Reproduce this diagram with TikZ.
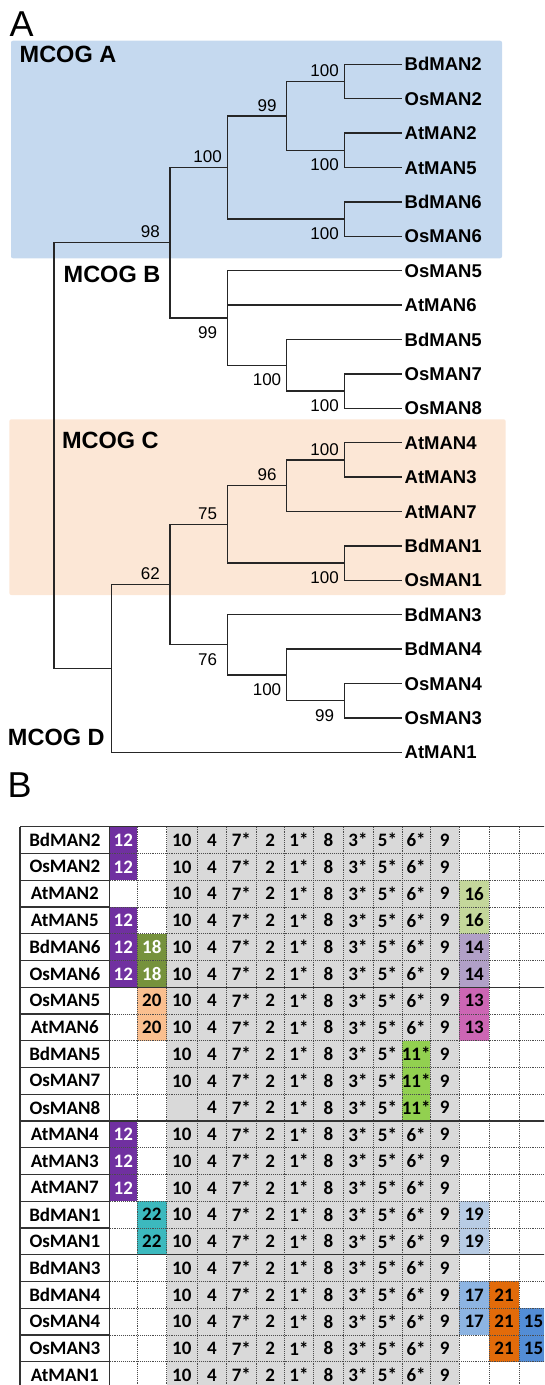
\documentclass[tikz,border=0pt]{standalone}
\usepackage{fontspec}
\setmainfont{Liberation Sans}
\newfontfamily\tabfont{Carlito}
\definecolor{bgA}{RGB}{197,217,239}
\definecolor{bgC}{RGB}{252,231,214}
\definecolor{cgray}{RGB}{217,217,217}
\definecolor{cpurple}{RGB}{112,48,160}
\definecolor{colive}{RGB}{118,146,60}
\definecolor{cpeach}{RGB}{250,191,143}
\definecolor{cteal}{RGB}{60,185,190}
\definecolor{clgreen}{RGB}{196,215,155}
\definecolor{clav}{RGB}{177,160,199}
\definecolor{cmag}{RGB}{204,102,180}
\definecolor{cgreen}{RGB}{146,208,80}
\definecolor{cblueA}{RGB}{184,204,228}
\definecolor{cblueB}{RGB}{141,180,226}
\definecolor{corange}{RGB}{226,107,10}
\definecolor{cblueC}{RGB}{83,141,213}
\def\colX{{20,109.7,137,166.7,197,226.7,256,284.3,313.7,343,373,402,430.3,459.3,489,519,548}}
\newcommand\cellbox[2]{%
  \pgfmathsetmacro\xa{\colX[#2]}%
  \pgfmathsetmacro\xb{\colX[#2+1]}%
  \pgfmathsetmacro\ya{826.7+26.75*#1}%
  \pgfmathsetmacro\yb{\ya+26.75}%
  \pgfmathsetmacro\xm{(\xa+\xb)/2}%
  \pgfmathsetmacro\ym{(\ya+\yb)/2}}
\newcommand\cfill[3]{\cellbox{#1}{#2}\fill[#3] (\xa,\ya) rectangle (\xb,\yb);}
\newcommand\ctext[4]{\cellbox{#1}{#2}\node[tcell,text=#3] (k-#1-#2) at (\xm,\ym) {#4};}
\begin{document}
\begin{tikzpicture}[x=1pt,y=-1pt,
  branch/.style={line width=1.3pt,draw=black!85},
  leaf/.style={anchor=base west,inner sep=0pt,font=\fontsize{18.5}{20}\selectfont\bfseries},
  bs/.style={anchor=base,inner sep=0pt,font=\fontsize{17}{18}\selectfont},
  bsup/.style={bs,xshift=-19.7pt,yshift=4.8pt},
  bsdn/.style={bs,xshift=-19.7pt,yshift=-20.5pt},
  mcog/.style={anchor=base west,inner sep=0pt,font=\fontsize{23.5}{26}\selectfont\bfseries},
  panel/.style={anchor=base west,inner sep=0pt,font=\fontsize{36}{40}\selectfont},
  tcell/.style={inner sep=0pt,font=\tabfont\fontsize{19}{20}\selectfont\bfseries},
  dotl/.style={line width=0.9pt,densely dotted,draw=black!70},
  soll/.style={line width=1.3pt,draw=black!80}]
\useasboundingbox (0,0) rectangle (544,1385);
% ---------- Panel A ----------
\node[panel] (pA) at (9.5,36) {A};
\fill[bgA,rounded corners=2pt] (11,40.7) rectangle (502,258.3);
\fill[bgC,rounded corners=2pt] (9.3,419.3) rectangle (505.7,595);
\node[mcog] (mA) at (19.5,62) {MCOG A};
\node[mcog] (mB) at (63.5,282.3) {MCOG B};
\node[mcog] (mC) at (61.8,448.3) {MCOG C};
\node[mcog] (mD) at (7.8,745.7) {MCOG D};
% leaves
\foreach \n [count=\i from 0] in {BdMAN2,OsMAN2,AtMAN2,AtMAN5,BdMAN6,OsMAN6,OsMAN5,AtMAN6,BdMAN5,OsMAN7,OsMAN8,AtMAN4,AtMAN3,AtMAN7,BdMAN1,OsMAN1,BdMAN3,BdMAN4,OsMAN4,OsMAN3,AtMAN1}{
  \pgfmathsetmacro\yy{64.3+34.4*\i}
  \coordinate (L\i) at (401.7,\yy);
  \node[leaf] (T\i) at (404.5,\yy+6.6) {\n};
}
% internal nodes
\coordinate (n1) at (344.3,81.5);
\coordinate (n2) at (344.3,150.3);
\coordinate (n3) at (286.7,115.9);
\coordinate (n4) at (344.3,219.1);
\coordinate (n5) at (227.3,167.5);
\coordinate (nB) at (227.3,318.0);
\coordinate (n7) at (286.7,365.3);
\coordinate (n8) at (344.3,391.1);
\coordinate (n98) at (170,242.75);
\coordinate (n9) at (344.3,459.9);
\coordinate (n10) at (286.7,485.7);
\coordinate (n11) at (344.3,563.1);
\coordinate (n12) at (227.3,524.4);
\coordinate (n13) at (344.3,700.7);
\coordinate (n14) at (286.7,674.9);
\coordinate (n15) at (227.3,644.8);
\coordinate (n16) at (170,584.6);
\coordinate (n17) at (111.7,668.45);
\coordinate (root) at (54,455.6);
% branches
\foreach \p/\c in {root/n98,root/n17,n98/n5,n98/nB,n5/n3,n5/n4,n3/n1,n3/n2,
  n1/L0,n1/L1,n2/L2,n2/L3,n4/L4,n4/L5,nB/L6,nB/L7,nB/n7,n7/L8,n7/n8,n8/L9,n8/L10,
  n17/n16,n17/L20,n16/n12,n16/n15,n12/n10,n12/n11,n10/n9,n10/L13,n9/L11,n9/L12,
  n11/L14,n11/L15,n15/L16,n15/n14,n14/L17,n14/n13,n13/L18,n13/L19}
  \draw[branch] (\p) |- (\c);
% bootstrap values
\node[bsup] (b1) at (n1) {100};
\node[bsdn] (b2) at (n2) {100};
\node[bsup] (b3) at (n3) {99};
\node[bsdn] (b4) at (n4) {100};
\node[bsup] (b5) at (n5) {100};
\node[bsup] (b98) at (n98) {98};
\node[bsdn] (bB) at (nB) {99};
\node[bsdn] (b7) at (n7) {100};
\node[bsdn] (b8) at (n8) {100};
\node[bsup] (b9) at (n9) {100};
\node[bsup] (b10) at (n10) {96};
\node[bsdn] (b11) at (n11) {100};
\node[bsup] (b12) at (n12) {75};
\node[bsup] (b16) at (n16) {62};
\node[bsdn] (b15) at (n15) {76};
\node[bsdn] (b14) at (n14) {100};
\node[bsdn] (b13) at (n13) {99};
% ---------- Panel B ----------
\node[panel] (pB) at (7.4,797.7) {B};
\begin{scope}
\clip (0,0) rectangle (544,1385);
% fills
\fill[cgray] (166.7,826.7) rectangle (459.3,1400);
\foreach \r in {0,1,3,4,5,11,12,13}{\cfill{\r}{1}{cpurple}}
\foreach \r in {4,5}{\cfill{\r}{2}{colive}}
\foreach \r in {6,7}{\cfill{\r}{2}{cpeach}}
\foreach \r in {14,15}{\cfill{\r}{2}{cteal}}
\foreach \r in {2,3}{\cfill{\r}{13}{clgreen}}
\foreach \r in {4,5}{\cfill{\r}{13}{clav}}
\foreach \r in {6,7}{\cfill{\r}{13}{cmag}}
\foreach \r in {8,9,10}{\cfill{\r}{11}{cgreen}}
\foreach \r in {14,15}{\cfill{\r}{13}{cblueA}}
\foreach \r in {17,18}{\cfill{\r}{13}{cblueB}}
\foreach \r in {17,18,19}{\cfill{\r}{14}{corange}}
\foreach \r in {18,19}{\cfill{\r}{15}{cblueC}}
% dotted grid
\foreach \k in {1,2,3,4,5,7,8,9,10,12,13,14,15,17,18,19,20}{
  \pgfmathsetmacro\yy{826.7+26.75*\k}
  \draw[dotl] (109.7,\yy) -- (548,\yy);}
\foreach \c in {2,...,15}{
  \pgfmathsetmacro\xx{\colX[\c]}
  \draw[dotl] (\xx,826.7) -- (\xx,1400);}
% solid lines
\draw[soll] (20,826.7) -- (20,1400);
\draw[soll] (109.7,826.7) -- (109.7,1400);
\foreach \k in {1,2,3,4,5,7,8,9,10,12,13,14,15,17,18,19,20}{
  \pgfmathsetmacro\yy{826.7+26.75*\k}
  \draw[soll] (20,\yy) -- (109.7,\yy);}
\foreach \k in {0,6,11,16}{
  \pgfmathsetmacro\yy{826.7+26.75*\k}
  \draw[soll] (20,\yy) -- (548,\yy);}
% names
\foreach \n [count=\r from 0] in {BdMAN2,OsMAN2,AtMAN2,AtMAN5,BdMAN6,OsMAN6,OsMAN5,AtMAN6,BdMAN5,OsMAN7,OsMAN8,AtMAN4,AtMAN3,AtMAN7,BdMAN1,OsMAN1,BdMAN3,BdMAN4,OsMAN4,OsMAN3,AtMAN1}{
  \ctext{\r}{0}{black}{\n}}
% standard cells
\foreach \r in {0,...,20}{
  \foreach \t [count=\c from 3] in {10,4,7*,2,1*,8,3*,5*,6*,9}{
    \def\celltxt{\t}%
    \ifnum\c=11 \ifnum\r>7 \ifnum\r<11 \def\celltxt{11*}\fi\fi\fi
    \ifnum\c=3 \ifnum\r=10 \def\celltxt{}\fi\fi
    \ctext{\r}{\c}{black}{\celltxt}}}
% coloured cell texts
\foreach \r in {0,1,3,4,5,11,12,13}{\ctext{\r}{1}{white}{12}}
\foreach \r in {4,5}{\ctext{\r}{2}{white}{18}}
\foreach \r in {6,7}{\ctext{\r}{2}{black}{20}}
\foreach \r in {14,15}{\ctext{\r}{2}{black}{22}}
\foreach \r in {2,3}{\ctext{\r}{13}{black}{16}}
\foreach \r in {4,5}{\ctext{\r}{13}{black}{14}}
\foreach \r in {6,7}{\ctext{\r}{13}{black}{13}}
\foreach \r in {14,15}{\ctext{\r}{13}{black}{19}}
\foreach \r in {17,18}{\ctext{\r}{13}{black}{17}}
\foreach \r in {17,18,19}{\ctext{\r}{14}{black}{21}}
\foreach \r in {18,19}{\ctext{\r}{15}{black}{15}}
\end{scope}
\end{tikzpicture}
\end{document}
